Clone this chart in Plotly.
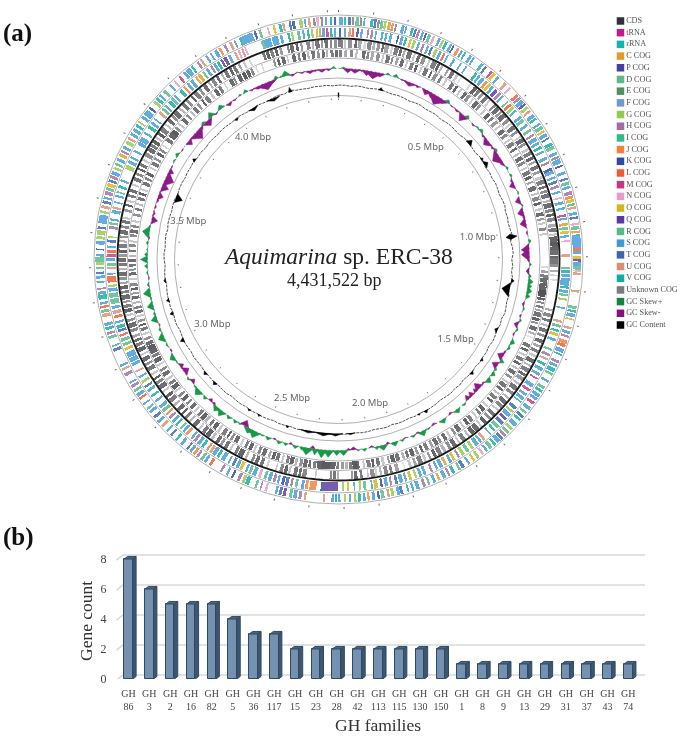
import plotly.graph_objects as go

GENOME_MBP = 4.431522
CENTER_PX = (338.5, 259.5)
W, H = 685, 736

cog_names = ["C", "P", "D", "E", "F", "G", "H", "I", "J", "K", "L", "M", "N", "O", "Q", "R", "S", "T", "U", "V", "X"]
cog_colors = ["#e39a2b", "#46409c", "#56bc84", "#4d9160", "#6f9ad1", "#95c94e", "#a06ea4", "#35b78f", "#f57f3c",
              "#2f4aa3", "#f15a35", "#c9367f", "#e59cc8", "#d2b81c", "#5a3a9e", "#55b989", "#3f9bd6", "#3a66b0",
              "#da8f72", "#11ada0", "#7a7a80"]

legend_labels = ["CDS", "tRNA", "rRNA", "C COG", "P COG", "D COG", "E COG", "F COG", "G COG", "H COG", "I COG",
                 "J COG", "K COG", "L COG", "M COG", "N COG", "O COG", "Q COG", "R COG", "S COG", "T COG", "U COG",
                 "V COG", "Unknown COG", "GC Skew+", "GC Skew-", "GC Content"]
legend_colors = ["#30323a", "#c8188c", "#0fb5ae"] + cog_colors + ["#15853c", "#84117e", "#000000"]

# Track entries: position along the circular map (deg), block width (deg), COG class
cog_outer = [
    (0.6,.6,'S'),(1.6,.4,'V'),(2.7,.5,'T'),(3.5,.3,'X'),(4.5,.6,'R'),(5.4,.4,'X'),(6.2,.3,'S'),(8.0,.5,'V'),(8.8,.4,'T'),
    (9.6,.4,'X'),(10.4,.5,'R'),(11.2,.4,'G'),(12.2,.5,'C'),(13.0,.4,'J'),(13.8,.3,'X'),(15.5,.5,'S'),(16.3,.3,'S'),
    (17.8,.4,'V'),(18.6,.4,'T'),(19.4,.4,'H'),(20.4,.4,'S'),(21.2,.3,'K'),(22.1,.5,'R'),(23.2,.4,'N'),(24.6,.4,'S'),
    (25.5,.4,'G'),(26.4,.5,'V'),(27.6,.4,'S'),(28.3,.3,'K'),(29.6,.5,'J'),(30.6,.4,'S'),(31.5,.3,'V'),(33.0,.5,'S'),
    (33.9,.3,'S'),(36.3,.5,'S'),(37.4,.4,'T'),(39.2,.4,'M'),(40.0,.5,'O'),(41.2,.4,'S'),(43.5,.5,'U'),(45.0,.3,'N'),
    (47.4,.5,'L'),(48.3,.4,'H'),(49.3,.7,'S'),(50.2,.4,'Q'),(51.2,.5,'G'),(52.2,.4,'U'),(53.6,.6,'S'),(54.5,.4,'V'),
    (56.0,.4,'S'),(57.0,.6,'R'),(58.0,.4,'O'),(59.0,.6,'S'),(60.0,.3,'T'),(61.5,.5,'V'),(62.4,.6,'R'),(64.0,.5,'S'),
    (65.0,.4,'H'),(66.0,.8,'S'),(67.2,.3,'K'),(69.0,.5,'S'),(70.5,.4,'T'),(71.6,.5,'R'),(72.6,.4,'S'),(74.0,.6,'H'),
    (75.0,.5,'J'),(75.9,.5,'O'),(76.8,.4,'R'),(77.6,.4,'U'),(79.0,.5,'S'),(80.0,.4,'T'),(81.5,.4,'N'),(82.4,.6,'R'),
    (83.4,.4,'C'),(84.2,.3,'S'),(85.8,2.2,'S'),(87.6,.5,'L'),(88.4,.5,'S'),(89.6,.5,'O'),(90.2,.4,'Q'),(91.0,.7,'S'),
    (92.0,.6,'R'),(92.7,.3,'N'),(93.4,.4,'U'),(97.6,.4,'U'),(101.5,.5,'R'),(102.4,.4,'V'),(103.4,.6,'S'),(104.4,.3,'O'),
    (106.5,.4,'U'),(107.6,.5,'S'),(108.6,.4,'H'),(110.0,.7,'J'),(110.9,.5,'L'),(112.2,.7,'S'),(113.2,.3,'V'),
    (115.0,.5,'H'),(116.0,.5,'S'),(117.2,.7,'V'),(118.3,.4,'R'),(120.2,.4,'S'),(122.0,.5,'R'),(123.0,.5,'V'),(124.2,.6,'S'),
    (125.2,.5,'S'),(126.4,.5,'M'),(128.0,.6,'S'),(129.3,.4,'R'),(130.5,.5,'T'),(131.5,.4,'V'),(133.0,.7,'S'),(134.4,.5,'G'),
    (135.6,.5,'R'),(136.6,.4,'H'),(137.6,.5,'T'),(138.6,.7,'S'),(139.8,.4,'V'),(141.0,.6,'R'),(142.2,.4,'S'),(143.4,.4,'N'),
    (144.8,.5,'G'),(146.0,.4,'O'),(147.4,.4,'S'),(149.0,.6,'T'),(150.0,.4,'R'),(151.6,.5,'V'),(152.8,.4,'H'),(154.0,.6,'S'),
    (155.4,.4,'C'),(156.6,.5,'S'),(158.0,.4,'R'),(159.2,.5,'H'),(160.8,.6,'S'),(162.0,.4,'S'),(163.2,.3,'V'),(164.8,.5,'T'),
    (165.6,.5,'S'),(167.0,.5,'G'),(168.0,.4,'U'),(169.4,.6,'R'),(170.4,.4,'K'),(171.6,.5,'S'),(172.8,.4,'C'),(173.8,.4,'S'),
    (175.0,.5,'V'),(176.0,.4,'G'),(177.2,.3,'S'),(178.4,.4,'G'),(179.8,.4,'S'),(180.6,.4,'V'),(181.4,.4,'S'),(183.5,.3,'U'),
    (188.0,.4,'U'),(189.2,.5,'H'),(190.4,.6,'S'),(191.5,.5,'R'),(193.0,.5,'Q'),(194.0,.5,'T'),(195.0,.4,'S'),(197.5,.4,'N'),
    (198.8,.3,'H'),(200.0,.4,'R'),(202.2,.7,'V'),(203.2,.5,'G'),(204.4,.5,'H'),(206.0,.4,'K'),(207.4,.4,'S'),(209.0,.4,'H'),
    (212.0,.5,'L'),(213.4,.5,'S'),(214.4,.5,'R'),(215.6,.4,'H'),(216.6,.5,'J'),(217.6,.5,'S'),(218.6,.3,'T'),(220.4,.5,'S'),
    (222.0,.4,'V'),(223.6,.4,'T'),(225.0,.4,'S'),(226.6,.5,'U'),(228.0,.5,'S'),(229.4,.5,'T'),(231.0,.5,'S'),(232.0,.4,'R'),
    (233.4,.3,'S'),(235.0,.4,'L'),(236.0,.6,'S'),(237.2,.5,'R'),(238.4,.5,'H'),(239.4,.3,'S'),(241.6,.6,'H'),(243.0,.4,'U'),
    (244.0,.4,'S'),(248.0,.5,'T'),(249.0,.3,'S'),(251.2,.5,'R'),(252.2,.4,'H'),(253.4,.5,'V'),(254.4,.5,'S'),(256.6,.6,'U'),
    (257.6,.5,'R'),(258.6,.4,'L'),(259.5,.4,'S'),(261.0,.8,'V'),(262.0,.5,'S'),(263.0,.3,'H'),(264.6,.3,'S'),(265.8,.5,'S'),
    (266.8,.4,'T'),(268.0,.4,'R'),(269.0,.5,'G'),(270.0,.8,'R'),(271.0,.4,'S'),(272.4,.3,'K'),(274.0,.6,'S'),(275.2,.5,'G'),
    (276.4,.8,'G'),(277.6,.4,'T'),(279.0,.5,'S'),(280.0,1.0,'S'),(281.4,.4,'G'),(282.6,.5,'U'),(283.8,.5,'T'),(284.8,.4,'S'),
    (286.0,.6,'H'),(287.0,.5,'R'),(288.0,.6,'O'),(289.0,.4,'T'),(290.0,.5,'H'),(291.0,.6,'S'),(292.2,.4,'G'),(293.2,.4,'R'),
    (294.4,.5,'S'),(295.6,.5,'C'),(296.6,.4,'H'),(297.6,.5,'S'),(299.0,.6,'G'),(300.0,.4,'U'),(301.2,.5,'S'),(302.4,.6,'S'),
    (303.6,.5,'V'),(304.6,.3,'G'),(306.0,.5,'S'),(307.4,1.0,'S'),(308.8,.4,'K'),(310.6,.5,'G'),(311.6,.5,'V'),(312.6,.4,'S'),
    (314.0,.5,'R'),(316.0,.4,'S'),(317.4,.3,'N'),(319.0,.4,'M'),(320.5,.5,'S'),(321.6,.8,'S'),(322.8,.4,'V'),(324.5,.4,'H'),
    (325.5,.4,'U'),(327.0,.4,'S'),(328.2,.3,'S'),(329.5,.6,'S'),(330.6,.4,'J'),(332.0,.4,'H'),(333.5,.4,'U'),(334.6,.3,'S'),
    (336.0,.4,'V'),(336.8,.8,'S'),(338.0,1.6,'S'),(339.8,.4,'K'),(341.0,.4,'R'),(343.0,.3,'N'),(344.5,.4,'O'),(346.0,.5,'V'),
    (346.8,.4,'U'),(348.4,.4,'T'),(349.2,.5,'K'),(351.0,.6,'G'),(352.0,.3,'S'),(353.0,.4,'U'),(354.2,.4,'X'),(355.0,.4,'N'),
    (356.0,.4,'X'),(357.0,.4,'S'),(358.2,.4,'V'),(359.2,.3,'K'),
]
cog_inner = [
    (0.4,.4,'K'),(1.6,.4,'S'),(2.8,.4,'U'),(3.6,.4,'L'),(4.8,.4,'Q'),(5.8,.4,'S'),(7.4,.3,'H'),(8.4,.4,'H'),(9.4,.3,'S'),
    (11.0,.4,'S'),(12.0,.4,'S'),(13.2,.5,'S'),(15.0,.3,'K'),(16.0,.5,'S'),(17.0,.4,'V'),(18.2,.4,'O'),(19.2,.5,'G'),(20.4,.4,'S'),
    (21.6,.4,'H'),(22.8,.4,'S'),(23.8,.4,'T'),(25.0,.5,'G'),(26.2,.5,'S'),(27.2,.4,'L'),(28.2,.3,'S'),(30.0,.4,'S'),(32.0,.3,'S'),
    (33.5,.3,'S'),(36.5,.5,'V'),(37.5,.4,'S'),(38.6,.6,'S'),(39.8,.5,'J'),(40.8,.5,'O'),(41.8,.5,'S'),(43.0,.6,'Q'),(44.2,.5,'H'),
    (45.2,.4,'S'),(47.0,.3,'R'),(48.0,.5,'L'),(49.0,.5,'G'),(50.0,.4,'S'),(52.0,.5,'S'),(53.0,.6,'R'),(54.5,.5,'S'),(56.0,.5,'R'),
    (57.4,.4,'H'),(58.6,.7,'S'),(59.8,.5,'S'),(61.0,.5,'V'),(62.2,.4,'S'),(64.0,.6,'S'),(65.2,.4,'H'),(67.0,.5,'K'),(67.8,.6,'S'),
    (69.2,.4,'S'),(70.4,.5,'T'),(71.6,.5,'H'),(73.0,.4,'S'),(74.5,.3,'N'),(75.8,.5,'S'),(77.2,.4,'S'),(79.0,.4,'M'),(79.8,.4,'S'),
    (81.2,.5,'C'),(82.2,.5,'R'),(83.2,.5,'O'),(84.2,.4,'S'),(85.4,.3,'N'),(89.0,.4,'U'),(92.2,.4,'R'),(93.0,.5,'V'),(94.0,.5,'S'),
    (94.9,.4,'R'),(95.6,1.4,'S'),(97.0,.4,'V'),(98.0,.5,'S'),(98.9,.4,'R'),(100.0,.4,'G'),(102.2,.3,'S'),(105.6,.4,'U'),(106.8,.5,'R'),
    (108.0,.4,'V'),(109.0,.5,'O'),(110.4,.5,'S'),(113.0,.4,'R'),(114.4,.5,'H'),(115.6,.4,'U'),(117.0,.5,'V'),(118.4,.6,'S'),(119.8,.5,'S'),
    (121.0,.3,'M'),(123.0,.7,'S'),(124.4,.5,'M'),(125.8,.5,'S'),(127.0,.6,'S'),(128.0,.3,'S'),(130.0,.6,'T'),(131.2,.4,'G'),(132.4,.7,'S'),
    (133.6,.5,'Q'),(135.0,.6,'T'),(136.4,.6,'R'),(137.6,.4,'V'),(139.0,.3,'S'),(141.0,.5,'U'),(142.0,.4,'S'),(143.2,.7,'S'),(144.6,.5,'G'),
    (146.0,.6,'R'),(147.4,.6,'G'),(148.6,.4,'H'),(150.0,.5,'O'),(151.0,.5,'S'),(152.4,.5,'C'),(153.6,.6,'S'),(154.8,.4,'S'),(156.2,.4,'H'),
    (158.0,.5,'S'),(159.2,.5,'S'),(160.4,.4,'G'),(161.8,.5,'O'),(163.0,.4,'S'),(164.2,.7,'S'),(165.4,.5,'T'),(166.8,.4,'H'),(168.0,.6,'S'),
    (169.2,.4,'K'),(170.6,.7,'O'),(171.6,.3,'S'),(173.4,.5,'R'),(174.6,.4,'G'),(176.0,.3,'S'),(177.6,.4,'O'),(178.8,.3,'G'),
    (180.4,.4,'S'),(182.0,2.8,'Q'),(184.2,.4,'K'),(185.9,.5,'J'),(186.7,.8,'J'),(188.0,.5,'J'),(189.0,.5,'S'),(190.6,.5,'R'),(191.8,.4,'H'),
    (193.0,.6,'T'),(194.0,.5,'K'),(195.2,.4,'S'),(196.2,.5,'H'),(197.4,.6,'S'),(198.6,.5,'R'),(200.0,.5,'N'),(201.4,.7,'S'),(202.6,.5,'R'),
    (203.6,.4,'S'),(205.0,.6,'O'),(206.0,.5,'S'),(207.2,.5,'T'),(208.4,.3,'S'),(210.0,.7,'S'),(211.4,.5,'V'),(212.6,.7,'S'),(213.6,.5,'U'),
    (214.6,.4,'J'),(216.0,.5,'V'),(217.2,.6,'S'),(218.4,.5,'H'),(219.4,.4,'S'),(221.0,.5,'J'),(222.0,.5,'S'),(223.0,.4,'R'),(224.4,.4,'V'),
    (225.6,.6,'S'),(226.8,.5,'H'),(228.0,.4,'J'),(229.2,.6,'R'),(230.4,.6,'S'),(232.2,.4,'S'),(233.8,.4,'V'),(235.4,.5,'S'),(236.6,.4,'T'),
    (238.0,.5,'G'),(239.4,.4,'S'),(241.0,.3,'U'),(243.0,.6,'S'),(244.2,.8,'S'),(245.6,1.0,'S'),(247.2,.5,'O'),(248.4,.5,'R'),(249.6,.6,'R'),
    (250.8,.4,'L'),(252.0,.5,'T'),(253.0,.6,'V'),(254.2,.4,'S'),(255.6,.5,'L'),(256.8,.6,'U'),(258.0,.5,'S'),(259.5,.9,'R'),(261.0,.8,'R'),
    (262.4,.6,'S'),(263.4,.4,'G'),(264.6,.5,'L'),(265.4,.7,'L'),(266.4,.3,'S'),(267.8,.4,'U'),(268.8,.6,'R'),(270.0,.5,'S'),(271.0,.5,'M'),
    (272.0,.6,'L'),(273.2,.4,'S'),(274.6,.5,'T'),(275.6,.3,'G'),(278.0,.5,'H'),(279.0,.4,'R'),(280.0,.4,'S'),(282.0,.6,'S'),(283.0,.4,'U'),
    (284.4,.3,'S'),(286.0,.4,'S'),(287.0,.3,'R'),(288.4,.5,'V'),(290.0,.4,'S'),(293.6,.8,'G'),(295.0,.6,'S'),(296.2,.4,'S'),(298.0,.4,'S'),
    (300.2,.6,'S'),(301.4,.9,'S'),(303.2,.4,'S'),(305.0,.6,'V'),(306.2,.5,'S'),(307.4,.3,'S'),(309.4,.5,'U'),(310.6,.5,'R'),(311.6,.4,'S'),
    (313.0,.6,'V'),(314.0,.5,'R'),(315.0,.3,'S'),(317.0,.6,'V'),(318.2,.4,'J'),(319.4,.5,'S'),(320.6,.6,'S'),(322.0,.4,'C'),(323.0,.6,'C'),
    (324.2,.4,'R'),(325.4,.5,'S'),(326.6,.4,'H'),(327.6,.5,'S'),(328.6,.5,'V'),(329.6,.4,'Q'),(330.6,.6,'Q'),(331.8,.5,'S'),(333.4,.4,'U'),
    (334.4,.4,'N'),(335.4,.4,'U'),(336.2,.3,'N'),(340.8,.6,'R'),(342.0,1.3,'S'),(344.0,1.1,'S'),(345.6,.5,'S'),(347.5,.4,'V'),(348.4,.4,'G'),
    (350.0,.5,'R'),(351.2,.4,'S'),(352.4,.4,'V'),(353.4,.4,'G'),(354.6,.4,'O'),(355.4,.4,'U'),(356.2,.5,'S'),(357.2,.4,'M'),(358.2,.4,'V'),(359.2,.4,'S'),
]

# CDS tracks: position (deg), width (deg), grey level
cds_outer = [
    (0.6,1.0,90),(1.8,.4,170),(3.0,.8,110),(4.6,.5,70),(5.6,.7,140),(7.0,.5,190),(8.2,.8,100),(9.4,.5,150),(10.6,.6,120),(11.8,.4,70),(12.8,.8,130),
    (14.2,.4,180),(15.4,.8,90),(16.6,.5,70),(17.6,.4,140),(19.0,.9,80),(20.4,.4,170),(21.6,.6,70),(23.0,.7,110),(24.6,.4,170),(26.0,.9,90),(27.2,.5,60),(28.2,.4,150),
    (30.0,.4,130),(31.4,.7,80),(32.8,.5,170),(34.0,.3,200),(37.0,.4,190),(38.6,.7,60),(39.8,.6,90),(41.0,.5,120),(42.4,.7,80),(43.6,.4,170),(45.4,.5,100),(46.6,.7,70),
    (47.8,.5,120),(49.0,.9,70),(50.6,.6,110),(51.8,.4,180),(53.0,.8,80),(54.4,.5,110),(56.0,.3,170),(57.0,.8,70),(58.2,.5,110),(59.8,.5,170),(61.0,.7,90),(62.4,.6,60),
    (63.6,.4,130),(65.0,.7,80),(66.4,.5,120),(68.0,.6,170),(69.2,.8,90),(70.6,.5,70),(71.8,.5,110),(73.0,.8,80),(74.4,.4,150),(75.6,.9,70),(77.0,.6,100),(78.2,.5,60),
    (79.4,.7,100),(81.0,.6,140),(82.2,.7,80),(83.4,.4,170),(84.6,1.0,60),(85.9,.8,50),(87.0,.7,60),(88.2,.9,70),(89.4,.6,60),(90.4,1.0,80),(91.6,.5,110),(93.0,.4,140),
    (94.2,.3,180),(95.4,.3,190),(103.4,.4,140),(104.8,.7,100),(106.2,.5,80),(107.6,.4,160),(109.0,.7,80),(110.4,.5,110),(112.0,.7,70),(113.4,.5,130),(114.8,.6,90),(116.2,.5,170),
    (117.6,.8,70),(119.0,.4,150),(120.4,.8,90),(121.8,.5,70),(123.0,.7,120),(124.6,.4,160),(126.0,.9,80),(127.6,.6,100),(129.2,.4,150),(130.6,.8,70),(132.0,.6,100),(133.4,.4,170),
    (135.0,.7,80),(136.4,.5,110),(138.0,.6,60),(139.4,.4,170),(140.8,.9,70),(142.2,.8,60),(143.6,.4,160),(145.2,.8,90),(146.6,.4,170),(148.0,.8,70),(149.4,.6,110),(151.0,.6,150),
    (152.4,.8,90),(153.8,.6,60),(155.2,.4,120),(156.6,.5,170),(158.0,.9,90),(159.4,.5,130),(160.8,.5,170),(162.4,.3,200),(164.4,.7,130),(166.0,.5,90),(167.4,.7,100),(168.8,.4,150),
    (170.0,.4,180),(171.0,.8,110),(172.2,.3,170),(174.0,.5,90),(175.4,.6,70),(176.4,.4,120),(180.2,.4,150),(181.0,.5,80),(182.0,.5,100),(186.0,.3,170),(189.0,.8,100),(190.2,.5,70),
    (191.4,.7,80),(193.0,.4,170),(194.0,.6,60),(195.2,.6,100),(196.6,.3,170),(199.0,.4,180),(200.6,.6,80),(202.0,.7,70),(203.2,.5,100),(205.0,.4,150),(206.6,1.0,60),(208.0,.6,90),
    (209.6,.4,170),(211.0,.7,80),(212.4,.5,120),(213.6,.7,70),(215.2,.5,160),(216.6,.9,60),(218.0,.7,80),(219.4,.4,170),(221.0,.8,70),(222.6,.4,150),(224.0,.6,90),(225.4,.4,60),
    (226.8,.7,70),(228.4,.5,150),(230.0,.8,90),(231.4,.6,60),(233.0,.4,170),(234.4,.9,70),(235.8,.6,100),(237.0,.4,60),(238.4,.4,170),(240.0,.8,80),(241.4,.5,110),(242.8,.8,70),
    (244.2,.4,170),(245.6,.8,60),(247.0,.6,90),(248.2,.5,70),(249.4,.5,130),(251.0,.6,100),(252.4,.9,70),(253.8,.5,110),(255.2,.4,170),(256.4,.7,60),(257.6,.6,90),(258.8,.4,120),
    (260.0,.9,70),(261.4,.5,90),(262.6,.7,60),(263.8,.4,130),(265.0,.6,110),(266.2,.8,70),(267.4,.4,150),(268.6,.6,80),(269.8,.7,70),(271.0,.5,120),(272.2,.6,60),(273.6,.7,90),
    (274.8,.4,150),(276.0,.4,110),(277.2,.8,70),(278.6,.5,100),(280.0,.6,80),(281.0,.4,170),(283.0,.5,120),(284.4,.4,60),(285.6,.4,170),(287.0,.5,90),(288.4,.6,70),(290.0,.4,170),
    (291.6,.7,80),(293.0,.5,100),(294.4,.4,60),(295.6,.6,80),(297.0,.4,170),(298.6,.8,110),(300.2,.8,70),(301.4,.6,90),(302.6,.7,60),(303.8,.4,170),(305.0,.6,60),(306.4,.9,90),
    (308.0,.4,170),(309.4,.6,70),(310.8,.5,110),(312.0,.9,70),(313.6,.4,150),(315.0,.6,80),(316.4,.5,110),(318.0,.4,60),(319.4,.8,90),(320.8,.5,110),(322.4,.7,70),(323.8,.4,150),
    (325.0,.7,100),(326.4,.5,70),(327.8,.4,150),(329.0,.7,80),(330.4,.5,60),(331.6,.6,80),(333.0,.4,130),(334.4,.4,170),(336.0,.3,190),(340.0,.5,80),(341.0,.6,60),(342.2,.6,90),
    (343.4,.5,60),(344.6,.5,120),(346.6,.4,100),(347.6,.7,70),(349.0,.5,60),(350.2,.4,120),(352.0,.7,100),(353.2,.4,150),(354.4,.8,80),(355.6,.4,120),(356.8,.7,70),(358.0,.4,100),(359.2,.6,110),
]
cds_inner = [
    (0.6,.7,90),(2.0,.5,140),(3.6,.7,100),(5.0,.4,160),(7.0,.7,70),(8.2,.5,100),(9.4,.6,140),(11.0,.7,110),(12.4,.4,170),(13.8,.8,80),(15.0,.4,110),(16.4,.5,130),
    (17.8,.7,70),(19.2,.4,170),(20.6,.7,90),(22.0,.5,60),(23.4,.4,170),(24.8,.8,80),(26.4,.4,60),(27.8,.7,110),(29.4,.5,90),(31.0,.4,170),(33.0,.7,80),(34.4,.5,60),(35.8,.4,170),
    (37.4,.6,70),(38.6,.7,110),(40.0,.4,180),(41.4,.8,70),(42.6,.5,110),(44.4,.4,170),(46.0,.7,60),(47.4,.5,90),(49.0,.7,120),(50.4,.4,170),(52.0,.8,70),(53.4,.6,100),(55.0,.4,170),
    (56.4,.8,90),(58.0,.5,70),(59.6,.4,160),(61.0,.8,70),(62.4,.6,100),(64.0,.4,170),(65.4,.8,80),(66.8,.6,60),(68.2,.4,130),(70.0,.9,70),(71.6,.4,160),(73.0,.8,100),(74.4,.5,60),
    (76.0,.5,170),(77.4,.7,70),(78.8,.4,120),(80.0,.4,170),(81.6,.6,100),(83.0,.4,170),(92.0,.4,190),(93.4,.5,130),(94.6,.6,90),(95.8,.9,70),(97.0,.6,60),(98.0,.8,60),(99.0,.8,40),
    (100.0,.6,40),(101.0,.5,60),(102.0,.4,100),(103.2,.5,90),(104.2,.4,130),(105.4,.9,80),(106.8,.6,60),(107.8,.4,110),(109.4,.8,70),(110.8,.4,150),(112.0,.3,200),(114.4,.7,80),(115.8,.5,60),
    (117.2,.4,170),(118.6,.7,90),(120.0,.5,60),(121.4,.4,160),(122.8,.8,70),(124.4,.5,110),(126.0,.4,170),(127.2,.8,80),(128.6,.5,70),(130.0,.4,160),(131.4,.7,90),(132.8,.5,60),(134.6,.4,170),
    (136.0,.8,60),(137.4,.5,90),(138.8,.4,170),(140.4,.7,90),(141.8,.7,60),(143.2,.4,170),(144.8,.9,70),(146.2,.5,110),(147.8,.4,170),(149.2,.7,70),(150.8,.5,110),(152.0,.8,70),(153.4,.5,130),
    (155.0,.7,90),(156.4,.5,60),(157.8,.5,120),(159.2,.8,60),(160.6,.6,80),(161.8,.5,150),(163.4,.8,80),(164.8,.8,60),(166.0,.4,120),(167.6,.6,170),(169.0,.7,80),(170.4,.5,60),(171.6,.8,90),
    (173.0,.4,170),(174.6,.6,70),(175.4,1.0,50),(176.6,.7,90),(177.8,.5,150),(179.0,.6,120),(180.2,.5,90),(181.6,1.1,60),(183.0,1.1,50),(184.2,.9,50),(185.4,.9,60),(186.6,.6,90),(188.0,.5,70),
    (189.2,.8,70),(190.4,.6,110),(191.8,.5,150),(193.0,.8,60),(194.2,.6,90),(195.6,.4,170),(197.0,.7,80),(198.2,.6,60),(199.4,.5,140),(201.0,.8,70),(202.4,.6,100),(203.8,.4,170),(205.0,.7,60),
    (206.4,.5,90),(207.8,.4,180),(209.4,.8,70),(210.8,.5,110),(212.0,.4,60),(213.4,.8,90),(215.0,.5,170),(216.4,.8,60),(217.8,.5,80),(219.4,.6,150),(220.6,.8,60),(222.0,.6,90),(223.4,.4,170),
    (224.8,.8,70),(226.4,.5,100),(228.0,.7,60),(229.4,.5,100),(231.0,.4,170),(232.2,.9,60),(233.6,.6,90),(235.0,.5,170),(236.6,.8,70),(238.0,.5,100),(239.6,.4,170),(241.0,.9,60),(242.4,.6,90),
    (243.8,1.0,60),(245.0,.8,50),(246.2,.7,70),(247.6,.5,110),(249.0,.4,170),(250.4,.6,80),(251.6,.4,60),(252.8,.5,110),(254.2,.4,170),(255.4,.6,70),(256.6,.5,90),(258.0,.4,150),(259.4,.6,70),
    (260.6,.4,120),(261.8,.5,60),(263.0,.6,100),(264.6,.4,170),(266.0,.6,70),(267.2,.4,110),(268.4,.5,80),(269.6,.6,70),(271.0,.4,150),(272.4,.5,80),(273.8,.6,100),(275.0,.4,170),(276.6,.5,100),
    (277.8,.7,70),(279.2,.5,100),(280.6,.4,170),(282.4,.5,110),(284.0,.5,80),(285.4,.4,160),(287.0,.6,80),(288.4,.5,60),(289.6,.4,170),(291.4,.7,80),(292.8,.5,100),(294.2,.6,60),(296.0,.4,170),
    (297.4,.7,80),(298.8,.5,110),(300.4,.6,60),(301.6,.5,100),(303.0,.3,180),(305.0,.7,80),(306.6,.9,60),(307.8,.8,50),(309.0,.5,110),(310.4,.4,170),(312.0,.7,70),(313.6,.5,100),(315.0,.4,160),
    (316.4,.7,80),(317.8,.5,110),(319.4,.4,60),(320.8,.8,90),(322.4,.5,170),(324.0,.7,60),(325.4,.6,90),(327.0,.3,180),(329.0,.8,70),(330.0,.4,100),(331.6,.8,60),(333.0,.7,50),(334.2,.7,60),
    (335.4,.5,100),(336.8,.3,190),(338.5,.3,190),(342.0,.4,110),(343.2,.5,60),(344.6,.7,70),(345.8,.3,170),(347.6,.7,70),(349.0,.5,100),(350.4,.7,60),(351.6,.4,150),(353.0,.7,80),(354.4,.5,110),
    (355.8,.5,70),(356.8,.4,150),(358.2,.6,90),(359.4,.5,70),
]

# GC skew peaks: position (deg), height relative to the ring (+ outward, - inward), half width (deg)
skew_peaks = [
    (1.5,1.5,.6),(2.8,-4,.9),(5.0,-4,1.1),(7.0,-1.5,.6),(8.6,-5,1),(10.6,-7,1.7),(12.6,-4,1),(15.0,2,.5),(17.4,3,.6),(19.5,-1,.6),(22.0,-4,1.4),(24.5,-2,.6),(27.6,-5,1),(29.6,-5,1.2),
    (31.4,-9,2),(33.4,-4,1),(34.7,3,.6),(36.5,-1,.5),(38.5,-2,.7),(41.0,-7,1),(42.2,3,.5),(45.0,-1.5,.5),(46.5,1.5,.5),(48.0,3,.6),(49.5,-2,.5),(51.7,-6,1.2),(54,-2,.5),(55.2,2,.5),
    (57.4,-8,1.7),(59.6,-3,.8),(61.5,2,.5),(64.0,2,.5),(65.6,-2,.5),(67.0,-5,.8),(69.5,1.5,.4),(72.0,-5,.8),(73.6,1.5,.4),(75.7,-6,1),(77.3,-2,.5),(79.0,-6,1),(82,-1.5,.5),(84.5,2.5,.5),
    (86.0,-3,.5),(87.0,-8,1),(88.5,-8,1.2),(90.2,-2,.5),(91.5,2,.4),(93.5,-3,.7),(95,2.5,.5),(96.6,5,.7),(98.0,4,.7),(99.4,5,.8),(101.0,4,.6),(103.5,-2,.6),(105.0,1.5,.5),(107.2,-1.5,.4),
    (108.6,2,.4),(110.0,-4,.7),(111.5,2,.5),(113,-1.5,.5),(115.5,4,.7),(117.5,2.5,.5),(119.0,-1.5,.4),(120.6,-6,.9),(122.0,4,.5),(123.8,-6,.8),(125,2,.4),(126.6,4,.6),(128.9,5,.7),(130.5,-2,.4),
    (132.4,-7,.9),(133.8,-4,.5),(135.5,-5,.6),(137.0,-5,.6),(139.0,2,.5),(141.8,4,.8),(144.0,-2,.5),(147.0,4,.8),(150.0,-2,.6),(152.0,1.5,.5),(154.0,5,.9),(155.5,-1.5,.4),(157.0,2,.6),(159.5,-1,.5),
    (160.5,2,.4),(163.0,4,.8),(165.0,-2,.4),(166.6,5,1),(168.5,3,.5),(170.0,-2,.5),(172.2,2.5,.5),(174.0,1.5,.4),(175.5,-3,.7),(177,-2,.4),(178.5,5,.9),(180.5,5,.8),(183.0,7,1),(185.0,8,1),(187.0,6,.6),
    (187.8,-3,.5),(189.5,7,1.2),(191.0,3,.5),(193.0,3,.6),(194.5,-2,.4),(196.0,2.5,.5),(198.0,3,.6),(199.6,-1.5,.4),(201.5,3,.6),(203.5,1.5,.5),(205.9,7,1.2),(207.8,5,1.2),(209.5,-6,.9),(211.0,1.5,.4),
    (212.5,3,.5),(214.8,3,.6),(217.5,6,.9),(219.4,5,.9),(220.8,-2,.4),(222.2,-3,.5),(224.0,3,.5),(226.7,6,1),(228.5,1.5,.4),(230.2,-4,.6),(231.5,2,.4),(234.0,-6,.9),(236.0,-4,.6),(237.5,1,.4),
    (239.3,5,.9),(241.5,-1.5,.4),(243.5,1.5,.5),(246.0,6,1),(248.5,2,.5),(250.0,-1,.4),(251.9,6,.8),(253.5,2,.5),(256.0,6,.9),(258.0,1.5,.4),(260.0,7,1),(262.4,2,.5),(264.5,-1,.5),(266.0,1.5,.4),
    (268.0,3,.5),(270.0,7,.7),(271.5,3,.5),(273,1,.4),(275.0,2,.5),(276.5,-1,.4),(278.2,7,1.2),(280,1.5,.4),(282.0,-6,.8),(284,-2,.6),(286.0,-1.5,.5),(288.0,-2,.5),(289.5,-5,.8),(292.4,-7,1),
    (295.0,-9,1.5),(297.5,-5,.7),(299.0,-1,.4),(301,1.5,.4),(303.0,3,.6),(305.0,-1,.4),(308.2,-5,.8),(310.2,-4,.7),(311.8,-9,1.6),(313.8,-3,.6),(315.2,2.5,.6),(316.5,-6,1.2),(318.5,5,.8),(320.0,-1.5,.5),
    (322.2,4,.8),(325.0,-3,.7),(327.0,-1.5,.5),(329,1.5,.4),(331.0,3,.5),(333.0,-1.5,.6),(335.0,-3,1),(337.6,-7,2),(339.6,-3,1),(341.0,3,.5),(342.5,1.5,.4),(344.0,5,.9),(346.0,-2,.7),(347.5,1,.4),
    (349.0,-1.5,.6),(351.4,-3,1),(353.0,-1.5,.7),(355.0,-3,.9),(357,-2,.6),(358.5,2,.5),
]

# GC content: thin trace (position deg, offset from its ring) and larger blobs
gc_pos = [0,2,4,6,8,10,12,14,16,18,20,22,24,26,28,30,32,34,36,38,40,42,44,46,48,50,52,54,56,58,60,62,64,66,68,70,72,74,76,78,80,82,84,86,88,90,92,94,96,98,100,102,104,106,108,110,
          112,114,116,118,120,122,124,126,128,130,132,134,136,138,140,142,144,146,148,150,152,154,156,158,160,162,164,166,168,170,172,174,176,178,180,182,184,186,188,190,192,194,196,198,
          200,202,204,206,208,210,212,214,216,218,220,222,224,226,228,230,232,234,236,238,240,242,244,246,248,250,252,254,256,258,260,262,264,266,268,270,272,274,276,278,280,282,284,286,288,
          290,292,294,296,298,300,302,304,306,308,310,312,314,316,318,320,322,324,326,328,330,332,334,336,338,340,342,344,346,348,350,352,354,356,358,360]
gc_off = [.5,.3,-.4,.6,.2,-.3,.5,1,.3,-.2,.5,.2,-.5,.4,.8,-.3,.2,.6,-.5,.3,.6,.1,-.4,.8,1.2,.2,-.5,.7,1,-.6,.4,-.3,.6,.2,-.6,.4,.9,-.4,.2,-.5,.3,1.5,-1,.4,.8,-.7,.3,-.5,.9,.4,-1.5,.3,-.6,.2,.8,-.5,
          .4,-.9,.3,.6,-.4,.5,.2,.9,-.3,.8,.2,-.6,.5,-.2,.7,.2,-.4,.3,.6,.8,-.2,.5,-.3,.2,.4,-.5,.6,.2,-.3,.5,.8,.3,.4,.9,.7,1,.8,.6,.5,-.3,.4,.7,-.2,.3,
          .5,-.3,.4,.7,.2,.8,-.2,.4,.2,-.5,.6,.3,-.3,.7,.4,.8,-.3,.2,.5,-.2,.4,.9,.2,-.4,.6,.3,-.5,.7,.5,.8,.3,-.4,.6,.2,-.5,.3,.6,-.3,.2,.4,-.6,.3,.2,-.4,.3,
          .5,-.7,.2,.4,-.3,.5,.2,.8,-.2,.4,-.5,.3,.2,-.3,.4,.2,-.4,.3,.2,-.6,-.8,.4,-.3,-.6,.3,.8,.2,2,.4,.2,-.3,.4,.2,.5,-.2,.3,.5]
gc_peaks = [
    (14,3,.8),(48.3,5,1.2),(57,4,1.4),(55,2.5,.6),(82.5,6,.8),(82.5,-5,1),(97,3,.8),(100,-8,2.4),(114,-3,1),(125,2.5,.6),(130.4,3,.8),(150,3,.8),(152.5,1.5,.5),(176,1.5,1.5),(181,2.5,2.5),
    (185,3,3),(190,2,3),(197,2,.6),(207,2,.6),(210.7,2,.6),(225,3,.8),(229.5,3,.8),(242.6,4,.8),(252,3,.7),(256.5,3,.6),(263,2,.8),(290.7,-7,1.6),(304.6,3,.7),(324,-2,.8),(330.6,-3,1.8),
    (338,-3,2.4),(344,5,.6),
]

# Scale labels around the inner ring
mbp_labels = ["0.5 Mbp", "1.0 Mbp", "1.5 Mbp", "2.0 Mbp", "2.5 Mbp", "3.0 Mbp", "3.5 Mbp", "4.0 Mbp"]
mbp_label_theta = [37.9, 81.2, 124.4, 167.7, 198.4, 242.6, 284.3, 325.0]
mbp_label_r = [142, 141, 142, 148, 147, 142, 155, 149]

# Panel (b)
gh_families = ["86", "3", "2", "16", "82", "5", "36", "117", "15", "23", "28", "42", "113", "115", "130", "150", "1", "8", "9", "13", "29", "31", "37", "43", "74"]
gh_counts = [8, 6, 5, 5, 5, 4, 3, 3, 2, 2, 2, 2, 2, 2, 2, 2, 1, 1, 1, 1, 1, 1, 1, 1, 1]
y_ticks = [0, 2, 4, 6, 8]

SERIF = "Liberation Serif, Times New Roman, serif"
SANS = "Noto Sans, Open Sans, sans-serif"
RMAX = 247
R_COG1 = (234.5, 243)
R_COG2 = (223, 232)
R_CDS1 = (212, 220)
R_CDS2 = (202.5, 210)
R_SKEW = 191
R_GC = 174
R_RINGS = [164, 181.5, 201.5, 211, 233.5, 244.5]
STRIPE_SCALE = 1.4

cmap = dict(zip(cog_names, cog_colors))

fig = go.Figure()


def add_track(rows, band, colour_of, opacity):
    pos, wid, val = zip(*rows)
    fig.add_trace(go.Barpolar(theta=list(pos), width=[w * STRIPE_SCALE for w in wid], base=[band[0]] * len(pos),
                              r=[band[1] - band[0]] * len(pos),
                              marker=dict(color=[colour_of(v) for v in val], line=dict(width=0)), opacity=opacity,
                              subplot="polar", showlegend=False, hoverinfo="skip"))


def grey(v):
    g = min(v + 25, 225)
    return f"rgb({g},{g},{g + 4})"


add_track(cog_outer, R_COG1, lambda c: cmap[c], 0.82)
add_track(cog_inner, R_COG2, lambda c: cmap[c], 0.82)
add_track(cds_outer, R_CDS1, grey, 0.9)
add_track(cds_inner, R_CDS2, grey, 0.9)


def add_peaks(rows, ring, sel, colour, widen=1.0):
    th, rr = [], []
    for p, a, w in rows:
        if sel(a):
            th += [p - w * widen, p, p + w * widen, None]
            rr += [ring, ring + a, ring, None]
    fig.add_trace(go.Scatterpolar(theta=th, r=rr, mode="lines", fill="toself", fillcolor=colour,
                                  line=dict(color=colour, width=0.6), subplot="polar", showlegend=False, hoverinfo="skip"))


ring_theta = list(range(0, 361, 2))
fig.add_trace(go.Scatterpolar(theta=ring_theta, r=[R_SKEW] * len(ring_theta), mode="lines",
                              line=dict(color="#7b6a86", width=0.7, dash="2px,2px"),
                              subplot="polar", showlegend=False, hoverinfo="skip"))
add_peaks(skew_peaks, R_SKEW, lambda a: a > 0, "#159a45", 1.6)
add_peaks(skew_peaks, R_SKEW, lambda a: a < 0, "#8e1a8a", 1.6)
fig.add_trace(go.Scatterpolar(theta=gc_pos, r=[R_GC + v for v in gc_off], mode="lines",
                              line=dict(color="#222", width=0.8, dash="3px,1px"),
                              subplot="polar", showlegend=False, hoverinfo="skip"))
add_peaks(gc_peaks, R_GC, lambda a: True, "#000000")

# Thick black ring
fig.add_trace(go.Scatterpolar(theta=ring_theta, r=[221] * len(ring_theta), mode="lines", line=dict(color="#1a1a1a", width=1.9),
                              subplot="polar", showlegend=False, hoverinfo="skip"))

# Scale ticks every 0.1 Mbp
tick_mbp = [i / 10 for i in range(0, 45)]
tick_theta = [m * 360.0 / GENOME_MBP for m in tick_mbp]
inner_t, inner_r = [], []
for t in tick_theta:
    inner_t += [t, t, None]
    inner_r += [159.5, 161, None]
fig.add_trace(go.Scatterpolar(theta=inner_t, r=inner_r, mode="lines", line=dict(color="#777", width=1),
                              subplot="polar", showlegend=False, hoverinfo="skip"))
fig.add_trace(go.Scatterpolar(theta=[0, 0], r=[162, 167], mode="lines", line=dict(color="#111", width=1.4),
                              subplot="polar", showlegend=False, hoverinfo="skip"))
fig.add_trace(go.Scatterpolar(theta=mbp_label_theta, r=mbp_label_r, mode="text", text=mbp_labels,
                              textfont=dict(family=SANS, size=9.5, color="#666"),
                              subplot="polar", showlegend=False, hoverinfo="skip"))

half = RMAX
cx, cy = CENTER_PX
fig.update_layout(polar=dict(
    domain=dict(x=[(cx - half) / W, (cx + half) / W], y=[1 - (cy + half) / H, 1 - (cy - half) / H]),
    bgcolor="rgba(0,0,0,0)", barmode="overlay",
    radialaxis=dict(range=[0, RMAX], showticklabels=False, ticks="", showline=False, tickvals=R_RINGS,
                    gridcolor="#b0b0b0", gridwidth=1.1, showgrid=True),
    angularaxis=dict(rotation=90, direction="clockwise", tickvals=tick_theta, ticks="outside", ticklen=2, tickwidth=1,
                     tickcolor="#666", showticklabels=False, showgrid=False, showline=False),
))

# Panel (b): 3-D looking bars
HW, DX, DY = 0.205, 0.16, 0.17
xs = list(range(len(gh_families)))
GRID_RAISE, GRID_X0, GRID_X1 = 0.27, -0.26, 24.8
grid_shapes = []
for t in y_ticks:
    for (x0, y0, x1, y1) in [(-0.576, t - 0.07, GRID_X0, t + GRID_RAISE), (GRID_X0, t + GRID_RAISE, GRID_X1, t + GRID_RAISE)]:
        grid_shapes.append(dict(type="line", xref="x", yref="y", x0=x0, y0=y0, x1=x1, y1=y1, layer="below",
                                line=dict(color="#d9d9d9", width=1.6)))
fig.add_trace(go.Bar(x=xs, y=gh_counts, width=2 * HW, marker=dict(color="#7491b1", line=dict(color="#2f4a63", width=1)),
                     xaxis="x", yaxis="y", showlegend=False, hoverinfo="skip"))
sx, sy, tx, ty = [], [], [], []
for x, v in zip(xs, gh_counts):
    sx += [x + HW, x + HW + DX, x + HW + DX, x + HW, x + HW, None]
    sy += [0, DY, v + DY, v, 0, None]
    tx += [x - HW, x - HW + DX, x + HW + DX, x + HW, x - HW, None]
    ty += [v, v + DY, v + DY, v, v, None]
fig.add_trace(go.Scatter(x=sx, y=sy, mode="lines", fill="toself", fillcolor="#3f566e", line=dict(color="#2f4a63", width=1),
                         xaxis="x", yaxis="y", showlegend=False, hoverinfo="skip"))
fig.add_trace(go.Scatter(x=tx, y=ty, mode="lines", fill="toself", fillcolor="#4d6379", line=dict(color="#2f4a63", width=1),
                         xaxis="x", yaxis="y", showlegend=False, hoverinfo="skip"))

# Legend column
fig.add_trace(go.Scatter(x=[0.116] * len(legend_labels), y=list(range(len(legend_labels))), mode="markers+text",
                         marker=dict(symbol="square", size=7.5, color=legend_colors, line=dict(width=0)),
                         text=legend_labels, textposition="middle right",
                         textfont=dict(family=SERIF, size=8.2, color="#555"),
                         xaxis="x2", yaxis="y2", showlegend=False, hoverinfo="skip", cliponaxis=False))

fig.update_layout(
    width=W, height=H, autosize=False, margin=dict(l=0, r=0, t=0, b=0), paper_bgcolor="white", plot_bgcolor="white",
    bargap=0, showlegend=False, shapes=grid_shapes,
    xaxis=dict(domain=[116 / W, 645 / W], range=[-0.6, 24.8], tickvals=xs, ticktext=[f"GH<br>{f}" for f in gh_families],
               tickangle=0, tickfont=dict(family=SERIF, size=10, color="#444"), showgrid=False, zeroline=False, showline=False,
               ticks="outside", ticklen=5, tickcolor="rgba(0,0,0,0)", automargin=False),
    yaxis=dict(domain=[1 - 679 / H, 1 - 553 / H], range=[0, 8.4], tickvals=y_ticks, showgrid=False, zeroline=False, showline=False,
               tickfont=dict(family=SERIF, size=12, color="#444"), ticks="outside", ticklen=6, tickcolor="rgba(0,0,0,0)", automargin=False),
    xaxis2=dict(domain=[612 / W, 1], range=[0, 1], visible=False, anchor="y2", automargin=False),
    yaxis2=dict(domain=[1 - 336.7 / H, 1 - 9.3 / H], range=[27, -1], visible=False, anchor="x2", automargin=False),
    annotations=[
        dict(text="<i>Aquimarina</i> sp. ERC-38", x=338 / W, y=1 - 256 / H, xref="paper", yref="paper", showarrow=False,
             yanchor="middle", font=dict(family=SERIF, size=23.5, color="#222")),
        dict(text="4,431,522 bp", x=334 / W, y=1 - 280 / H, xref="paper", yref="paper", showarrow=False,
             yanchor="middle", font=dict(family=SERIF, size=18, color="#222")),
        dict(text="<b>(a)</b>", x=1 / W, y=1 - 33 / H, xref="paper", yref="paper", xanchor="left", yanchor="middle", showarrow=False,
             font=dict(family=SERIF, size=25, color="#111")),
        dict(text="<b>(b)</b>", x=1 / W, y=1 - 537 / H, xref="paper", yref="paper", xanchor="left", yanchor="middle", showarrow=False,
             font=dict(family=SERIF, size=25, color="#111")),
        dict(text="Gene count", x=86 / W, y=1 - 621 / H, xref="paper", yref="paper", textangle=-90, showarrow=False,
             xanchor="center", yanchor="middle", font=dict(family=SERIF, size=17.5, color="#333")),
        dict(text="GH families", x=378 / W, y=1 - 725 / H, xref="paper", yref="paper", showarrow=False,
             xanchor="center", yanchor="middle", font=dict(family=SERIF, size=17.5, color="#333")),
    ],
)

fig.write_html("out.html", config={"displayModeBar": False},
               post_script="document.body.style.margin='0';document.documentElement.style.overflow='hidden';"
                           "document.querySelector('.js-plotly-plot').style.filter='blur(0.4px)';")
